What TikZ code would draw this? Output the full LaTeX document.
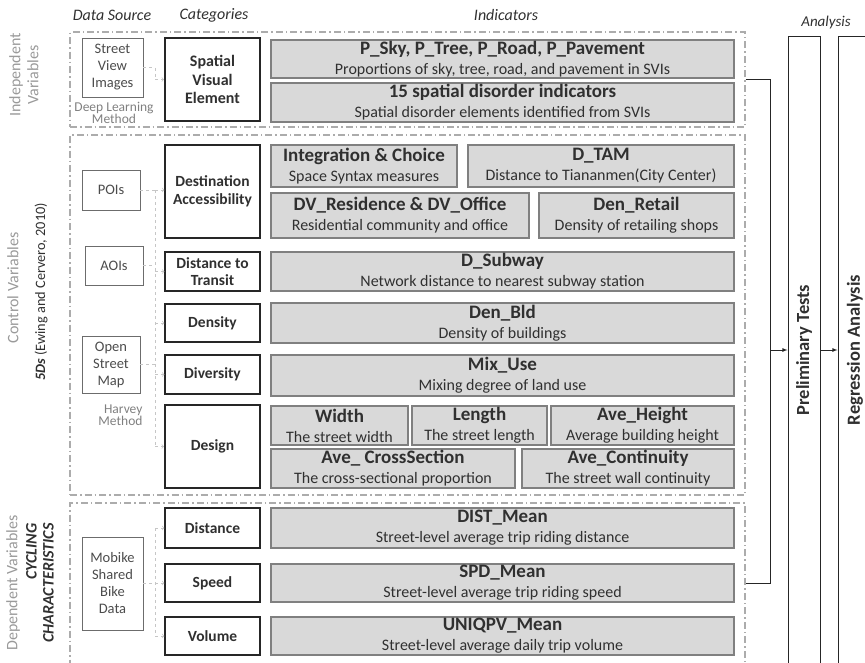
\documentclass[tikz,border=0pt]{standalone}
\usepackage{fontspec}
\setmainfont{Carlito}
\definecolor{indfill}{HTML}{D9D9D9}
\definecolor{indline}{HTML}{808080}
\definecolor{lblgray}{HTML}{9A9A9A}
\definecolor{txtdark}{HTML}{303030}
\newcommand{\ttlfont}{\fontsize{19}{20}\selectfont\bfseries}
\tikzset{sz/.style 2 args={minimum width=#1, minimum height=#2}}
\begin{document}
\begin{tikzpicture}[
  x=1pt, y=-1pt,
  group/.style={draw=gray!65, line width=1.3pt, dash pattern=on 7pt off 3pt on 1.5pt off 3pt, inner sep=0pt},
  source/.style={draw=gray!85!black, line width=0.8pt, fill=white, align=center, inner sep=0pt, text=black!70, font=\fontsize{14.5}{17}\selectfont},
  category/.style={draw=black!85, line width=1.2pt, fill=white, align=center, inner sep=0pt, text=txtdark, font=\fontsize{15.5}{17.5}\selectfont\bfseries},
  indicator/.style={draw=indline, line width=1.2pt, fill=indfill, align=center, inner sep=0pt, text=txtdark, font=\fontsize{16}{20}\selectfont},
  head/.style={font=\fontsize{16}{18}\selectfont\itshape, text=txtdark},
  side/.style={rotate=90, align=center, text=lblgray, font=\fontsize{16}{18}\selectfont},
  note/.style={text=black!50, font=\fontsize{13.5}{12}\selectfont},
  stage/.style={draw=black!85, line width=1pt, fill=white, inner sep=0pt, text=txtdark, font=\fontsize{18.5}{20}\selectfont\bfseries},
  link/.style={draw=gray!45, dashed, line width=0.7pt},
  flow/.style={draw=black!85, line width=0.8pt},
]
\useasboundingbox (0,0) rectangle (865,662);
\clip (0,0) rectangle (865,662);
% column heads
\node[head] (hsrc) at (112,15) {Data Source};
\node[head] (hcat) at (214,15) {Categories};
\node[head] (hind) at (506,15) {Indicators};
\node[head, font=\fontsize{15}{18}\selectfont\itshape] (hana) at (826,22) {Analysis};
% groups
\node[group, sz={675}{95}] (indep) at (407.5,79.5) {};
\node[group, sz={675}{360}] (ctrl) at (407.5,315) {};
\node[group, sz={675}{161}] (dep) at (407.5,583.5) {};
\node[side] (lindep) at (24,75) {Independent\\Variables};
\node[side] (lctrl) at (13,288) {Control Variables};
\node[side, text=txtdark, font=\fontsize{14.3}{16}\selectfont] (l5d) at (41,292) {{\bfseries\itshape 5Ds} (Ewing and Cervero, 2010)};
\node[side] (ldep) at (13,583) {Dependent Variables};
\node[side, align=right, text=txtdark, font=\fontsize{16}{17}\selectfont\bfseries\itshape] (lcyc) at (40,583) {CYCLING\\CHARACTERISTICS};
% Independent variables
\node[source, sz={61}{59}] (svi) at (112.5,67.5) {Street\\View\\Images};
\node[note, align=center] (dlm) at (114,113) {Deep Learning\\Method};
\node[category, line width=2pt, sz={95}{83}, font=\fontsize{16}{18.5}\selectfont\bfseries] (spatial) at (212.5,79.5) {Spatial\\Visual\\Element};
\node[indicator, sz={463}{38}] (psky) at (502.5,59) {{\ttlfont P\_Sky, P\_Tree, P\_Road, P\_Pavement}\\Proportions of sky, tree, road, and pavement in SVIs};
\node[indicator, sz={463}{39}] (disorder) at (502.5,102.5) {{\ttlfont 15 spatial disorder indicators}\\Spatial disorder elements identified from SVIs};
% Control variables
\node[source, sz={58}{40}] (poi) at (111,190) {POIs};
\node[source, sz={58}{39}] (aoi) at (114,265.5) {AOIs};
\node[source, sz={58}{57}] (osm) at (111,364.5) {Open\\Street\\Map};
\node[note, align=right, anchor=east] (hvm) at (146,415) {Harvey\\Method};
\node[category, sz={95}{93}] (dest) at (212.5,191.5) {Destination\\Accessibility};
\node[category, sz={95}{39}] (transit) at (212.5,271.5) {Distance to\\Transit};
\node[category, sz={95}{38}] (density) at (212.5,323) {Density};
\node[category, sz={95}{39}] (diversity) at (212.5,374.5) {Diversity};
\node[category, line width=2pt, sz={95}{83}] (design) at (212.5,446.5) {Design};
\node[indicator, sz={186}{42}] (integ) at (364,166) {{\ttlfont Integration \& Choice}\\Space Syntax measures};
\node[indicator, sz={266}{42}] (dtam) at (601,166) {{\ttlfont D\_TAM}\\Distance to Tiananmen(City Center)};
\node[indicator, sz={258}{45}] (dv) at (400,215.5) {{\ttlfont DV\_Residence \& DV\_Office}\\Residential community and office};
\node[indicator, sz={195}{45}] (denret) at (636.5,215.5) {{\ttlfont Den\_Retail}\\Density of retailing shops};
\node[indicator, sz={463}{39}] (dsub) at (502.5,271.5) {{\ttlfont D\_Subway}\\Network distance to nearest subway station};
\node[indicator, sz={463}{40}] (denbld) at (502.5,323) {{\ttlfont Den\_Bld}\\Density of buildings};
\node[indicator, sz={463}{41}] (mix) at (502.5,375.5) {{\ttlfont Mix\_Use}\\Mixing degree of land use};
\node[indicator, sz={137}{39}] (width) at (339.5,425.5) {{\ttlfont Width}\\The street width};
\node[indicator, sz={135}{39}] (length) at (479.5,425.5) {{\ttlfont Length}\\The street length};
\node[indicator, sz={183}{39}] (aveh) at (642.5,425.5) {{\ttlfont Ave\_Height}\\Average building height};
\node[indicator, sz={244}{39}] (cross) at (393,468.5) {{\ttlfont Ave\_ CrossSection}\\The cross-sectional proportion};
\node[indicator, sz={212}{39}] (cont) at (628,468.5) {{\ttlfont Ave\_Continuity}\\The street wall continuity};
% Dependent variables
\node[source, sz={61}{93}] (mobike) at (112.5,583.5) {Mobike\\Shared\\Bike\\Data};
\node[category, sz={95}{40}] (distance) at (212.5,528) {Distance};
\node[category, sz={95}{38}] (speed) at (212.5,583) {Speed};
\node[category, sz={95}{38}] (volume) at (212.5,636) {Volume};
\node[indicator, sz={463}{40}] (distm) at (502.5,528) {{\ttlfont DIST\_Mean}\\Street-level average trip riding distance};
\node[indicator, sz={463}{38}] (spdm) at (502.5,583) {{\ttlfont SPD\_Mean}\\Street-level average trip riding speed};
\node[indicator, sz={463}{38}] (uniq) at (502.5,636) {{\ttlfont UNIQPV\_Mean}\\Street-level average daily trip volume};
% Analysis
\node[stage, sz={32}{628}] (prelim) at (804,350) {\rotatebox{90}{Preliminary Tests}};
\node[stage, sz={34}{628}] (regr) at (855,350) {\rotatebox{90}{Regression Analysis}};
% data links
\coordinate (bus) at (155,0);
\coordinate (trunk) at (770,0);
\draw[link, ->] (svi.east) -| (bus |- spatial.west) -- (spatial.west);
\draw[link] (poi.east) -- (poi.east -| bus);
\draw[link] (aoi.east) -- (aoi.east -| bus);
\draw[link] (osm.east) -- (osm.east -| bus);
\draw[link] (poi.east -| bus) -- (design.west -| bus);
\draw[link, ->] (poi.east -| bus) -- (dest.west |- poi.east);
\draw[link, ->] (transit.west -| bus) -- (transit.west);
\draw[link, ->] (density.west -| bus) -- (density.west);
\draw[link, ->] (diversity.west -| bus) -- (diversity.west);
\draw[link, ->] (design.west -| bus) -- (design.west);
\draw[link] (mobike.east) -- (mobike.east -| bus);
\draw[link] (distance.west -| bus) -- (volume.west -| bus);
\draw[link, ->] (distance.west -| bus) -- (distance.west);
\draw[link, ->] (speed.west -| bus) -- (speed.west);
\draw[link, ->] (volume.west -| bus) -- (volume.west);
% analysis flow
\draw[flow] (indep.east) -| (dep.east -| trunk) -- (dep.east);
\draw[flow, -latex] (prelim.west -| trunk) -- (prelim.west);
\draw[flow, -latex] (prelim.east) -- (regr.west);
\end{tikzpicture}
\end{document}
